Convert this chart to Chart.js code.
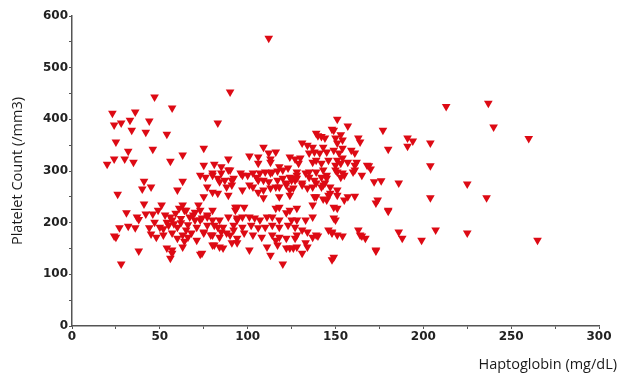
<!DOCTYPE html>
<html>
<head>
<meta charset="utf-8">
<script src="https://cdn.jsdelivr.net/npm/chart.js@4.4.1/dist/chart.umd.min.js"></script>
<style>
  html, body { margin: 0; padding: 0; background: #fff; }
  #wrap { width: 620px; height: 378px; }
</style>
</head>
<body>
<div id="wrap"><canvas id="plot" width="620" height="378"></canvas></div>
<script>
// Haptoglobin (mg/dL) vs platelet count
const haptoglobin = [
  20, 23, 24, 24, 25, 24, 25, 26, 27, 28, 28, 30, 31, 32, 32, 33, 34, 35, 36, 36, 37, 38, 40, 41, 41, 42, 42, 44, 45, 45, 46, 47, 54, 56, 57, 63, 63, 60, 38,
  44, 46, 47, 48, 49, 50, 51, 52, 53, 54, 54, 57, 56, 73,
  56, 57, 60, 57, 61, 64, 67, 70, 71, 68, 63, 60, 73, 77, 80, 83, 75, 79, 85, 88, 92, 94, 94, 93, 57, 63, 74, 81, 86, 91,
  63, 65, 70, 72, 75, 73, 55, 58, 62, 65, 66, 69, 59, 62, 52, 66, 71, 64,
  75, 83, 109, 116, 112, 113, 101, 106, 124, 127, 89, 75, 81, 85, 89, 97, 100, 103, 107, 110, 114, 117, 120, 123, 118,
  73, 76, 80, 83, 84, 87, 92, 91, 106, 109, 112, 117, 120, 124, 127, 116, 122, 124, 97, 101, 106, 109, 77, 80, 83, 88,
  106, 113, 80, 85, 90, 96, 105, 113, 91, 103, 109, 113, 118, 122, 125, 128, 118, 124, 89,
  93, 98, 80, 77, 74, 84, 89, 94, 97, 101, 104, 107, 111, 114, 118, 122, 125, 128, 116, 118, 124,
  77, 81, 86, 92, 97, 102, 106, 110, 114, 118, 123, 127, 75, 80, 84, 90, 94, 98, 103, 108, 114, 118, 122, 128,
  80, 84, 94, 101, 111, 117, 122, 126, 113, 120, 116,
  151, 148, 157, 150, 154, 151, 163, 164, 149, 152, 154, 159, 161, 162, 157, 150, 151, 154, 155, 160, 147, 149, 151, 150, 148, 151, 154, 149,
  139, 142, 131, 134, 137, 143, 135, 138, 141, 145, 130, 129, 137, 139, 142, 146, 151, 153, 168, 170,
  128, 133, 135, 139, 143, 145, 150, 125, 128, 131, 135, 138, 142, 144, 126, 131, 137, 143, 138, 143, 146, 161, 180,
  128, 137, 133, 131, 146, 148, 137, 140, 164, 167, 127, 128, 124, 133, 134, 131, 148, 173,
  140, 144, 149, 153, 154, 161, 153, 145, 139, 134, 142, 147, 139, 145, 151, 157, 163, 149, 137, 134, 139, 151, 155, 165, 161,
  213, 237, 240, 260, 177, 191, 194, 191, 204, 180, 204, 169, 172, 176, 186, 225, 204, 236, 173, 174, 180, 207, 186, 188, 225, 199, 165, 173, 265,
  112, 90
];
const plateletCount = [
  313, 412, 389, 323, 356, 174, 172, 255, 190, 393, 120, 323, 219, 193, 338, 398, 379, 317, 414, 190, 211, 145, 265, 280, 236, 375, 217, 397, 269, 178, 342, 443, 371, 319, 422, 331, 280, 263, 206,
  190, 217, 201, 172, 224, 191, 234, 176, 215, 201, 151, 147, 131, 139,
  211, 205, 191, 180, 228, 224, 211, 205, 191, 180, 176, 170, 224, 211, 205, 191, 182, 176, 182, 180, 186, 205, 230, 224, 141, 153, 141, 157, 151, 161,
  234, 224, 220, 234, 250, 205, 195, 198, 200, 186, 196, 215, 218, 208, 188, 172, 166, 164,
  344, 393, 346, 337, 335, 323, 329, 327, 327, 323, 323, 311, 313, 308, 302, 292, 292, 296, 296, 298, 298, 300, 302, 306, 308,
  292, 288, 292, 286, 279, 282, 286, 273, 282, 282, 279, 282, 286, 288, 282, 269, 273, 263, 263, 273, 259, 248, 269, 259, 257, 269,
  315, 317, 296, 296, 302, 296, 288, 296, 282, 269, 263, 267, 269, 277, 286, 292, 250, 253, 253,
  230, 230, 224, 215, 209, 205, 211, 209, 211, 211, 209, 205, 211, 211, 205, 219, 205, 205, 228, 230, 224,
  195, 195, 191, 195, 191, 195, 190, 191, 195, 191, 195, 191, 180, 176, 172, 176, 170, 180, 176, 172, 176, 172, 170, 176,
  157, 153, 161, 147, 153, 157, 151, 151, 137, 120, 166,
  400, 381, 387, 364, 360, 354, 364, 356, 340, 335, 325, 340, 335, 317, 317, 311, 298, 296, 292, 298, 257, 230, 228, 205, 182, 176, 174, 133,
  373, 367, 354, 350, 346, 346, 335, 337, 335, 337, 325, 315, 317, 321, 315, 321, 321, 315, 311, 304,
  298, 296, 298, 298, 302, 292, 302, 282, 286, 277, 288, 282, 288, 277, 267, 273, 269, 273, 250, 246, 253, 251, 224,
  228, 234, 205, 186, 186, 180, 172, 174, 176, 170, 170, 153, 151, 161, 153, 141, 128, 145,
  368, 364, 379, 370, 344, 302, 288, 286, 277, 267, 269, 269, 250, 244, 253, 250, 186, 209, 211, 182, 176, 263, 244, 292, 311,
  425, 431, 385, 363, 379, 364, 358, 348, 354, 342, 310, 310, 279, 281, 277, 275, 248, 248, 238, 244, 222, 186, 182, 170, 180, 166, 174, 147, 166,
  557, 453
];
const xTicks = [0, 50, 100, 150, 200, 250, 300];
const yTicks = [0, 100, 200, 300, 400, 500, 600];
const xTitle = 'Haptoglobin (mg/dL)';
const yTitle = 'Platelet Count (/mm3)';

const points = haptoglobin.map((x, i) => ({ x, y: plateletCount[i] }));

// axis titles are placed by hand, the x one hangs past the axis end
const axisTitles = {
  id: 'axisTitles',
  afterDraw(chart) {
    const { ctx, chartArea } = chart;
    ctx.save();
    ctx.fillStyle = '#1a1a1a';
    ctx.font = '14.5px "Open Sans"';
    ctx.textBaseline = 'middle';
    ctx.textAlign = 'right';
    ctx.fillText(xTitle, 617, 365);
    ctx.translate(18, (chartArea.top + chartArea.bottom) / 2);
    ctx.rotate(-Math.PI / 2);
    ctx.textAlign = 'center';
    ctx.fillText(yTitle, 0, 0);
    ctx.restore();
  }
};

const tickFont = { family: '"DejaVu Sans"', size: 12, weight: 'bold' };

new Chart(document.getElementById('plot'), {
  type: 'scatter',
  data: {
    datasets: [{
      data: points,
      pointStyle: 'triangle',
      rotation: 180,
      radius: 5,
      hoverRadius: 5,
      backgroundColor: '#dd0a14',
      borderWidth: 0
    }]
  },
  options: {
    responsive: false,
    animation: false,
    layout: { padding: { top: 16, right: 21, bottom: 0, left: 0 } },
    plugins: { legend: { display: false }, tooltip: { enabled: false } },
    scales: {
      x: {
        type: 'linear', min: 0, max: 300,
        afterFit: s => { s.height = 52; },
        border: { color: '#555', width: 1.5 },
        grid: { drawOnChartArea: false, color: '#555', tickLength: 3 },
        ticks: {
          stepSize: 25, autoSkip: false, maxRotation: 0, padding: 1,
          color: '#222', font: tickFont,
          callback: v => (xTicks.includes(v) ? String(v) : '')
        }
      },
      y: {
        type: 'linear', min: 0, max: 600,
        afterFit: s => { s.width = 72; },
        border: { color: '#555', width: 1.5 },
        grid: { drawOnChartArea: false, color: '#555', tickLength: 3 },
        ticks: {
          stepSize: 50, autoSkip: false, padding: 1,
          color: '#222', font: tickFont,
          callback: v => (yTicks.includes(v) ? String(v) : '')
        }
      }
    }
  },
  plugins: [axisTitles]
});
</script>
</body>
</html>
